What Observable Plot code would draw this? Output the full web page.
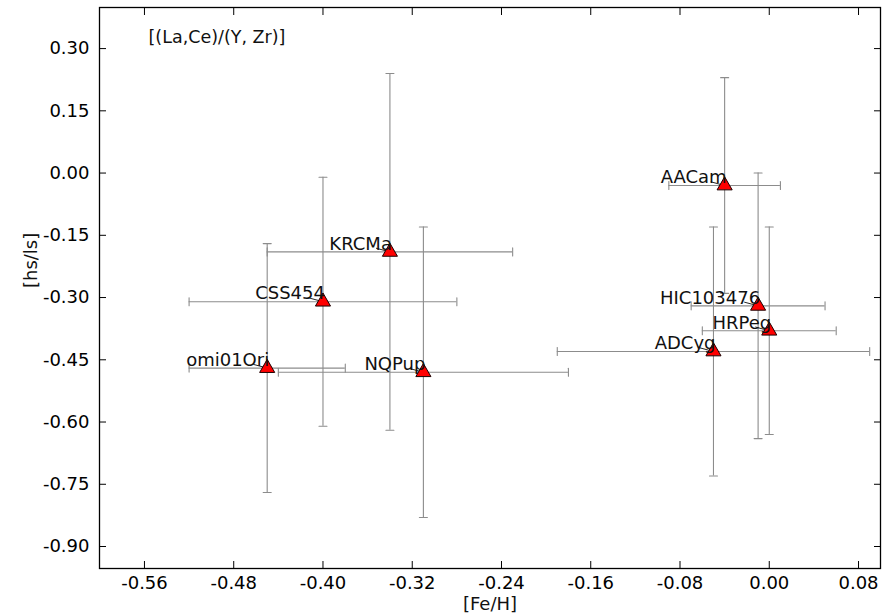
<!DOCTYPE html>
<html>
<head>
<meta charset="utf-8">
<script src="https://cdn.jsdelivr.net/npm/d3@7"></script>
<script src="https://cdn.jsdelivr.net/npm/@observablehq/plot@0.6"></script>
<style>
  html, body { margin: 0; padding: 0; background: #fff; }
  svg { display: block; }
</style>
</head>
<body>
<div id="chart"></div>
<script>
// Stars
const names   = ["AACam", "HIC103476", "HRPeg", "ADCyg", "KRCMa", "CSS454", "omi01Ori", "NQPup"];
// [Fe/H] and its error
const feh     = [-0.04, -0.01, 0.00, -0.05, -0.34, -0.40, -0.45, -0.31];
const fehErr  = [0.05, 0.06, 0.06, 0.14, 0.11, 0.12, 0.07, 0.13];
// [hs/ls] and its error
const hsls    = [-0.03, -0.32, -0.38, -0.43, -0.19, -0.31, -0.47, -0.48];
const hslsErr = [0.26, 0.32, 0.25, 0.30, 0.43, 0.30, 0.30, 0.35];

const xTicks = [-0.56, -0.48, -0.40, -0.32, -0.24, -0.16, -0.08, 0.00, 0.08];
const yTicks = [0.30, 0.15, 0.00, -0.15, -0.30, -0.45, -0.60, -0.75, -0.90];
const title = "[(La,Ce)/(Y, Zr)]";
const xLabel = "[Fe/H]";
const yLabel = "[hs/ls]";

const data = names.map((name, i) => ({
  name, x: feh[i], xe: fehErr[i], y: hsls[i], ye: hslsErr[i]
}));

const fmt = d => d.toFixed(2);
const lineShape = {draw(context, l) { context.moveTo(0, 0); context.lineTo(0, -l); }};
const barColor = "#8c8c8c";
const FONT = "DejaVu Sans";

const chart = Plot.plot({
  width: 891,
  height: 615,
  marginLeft: 99,
  marginRight: 11,
  marginTop: 7,
  marginBottom: 47,
  style: {fontFamily: FONT, fontSize: "18px", color: "#000", background: "#fff"},
  x: {domain: [-0.6003, 0.0997]},
  y: {domain: [-0.953, 0.399]},
  marks: [
    // error bars
    Plot.ruleX(data, {x: "x", y1: d => d.y - d.ye, y2: d => d.y + d.ye, stroke: barColor, strokeWidth: 1.1}),
    Plot.ruleY(data, {y: "y", x1: d => d.x - d.xe, x2: d => d.x + d.xe, stroke: barColor, strokeWidth: 1.1}),
    // caps
    Plot.vector(data, {x: "x", y: d => d.y - d.ye, length: 8, rotate: 90, anchor: "middle", shape: lineShape, stroke: barColor, strokeWidth: 1.1}),
    Plot.vector(data, {x: "x", y: d => d.y + d.ye, length: 8, rotate: 90, anchor: "middle", shape: lineShape, stroke: barColor, strokeWidth: 1.1}),
    Plot.vector(data, {x: d => d.x - d.xe, y: "y", length: 8, rotate: 0, anchor: "middle", shape: lineShape, stroke: barColor, strokeWidth: 1.1}),
    Plot.vector(data, {x: d => d.x + d.xe, y: "y", length: 8, rotate: 0, anchor: "middle", shape: lineShape, stroke: barColor, strokeWidth: 1.1}),
    // annotation arrows
    Plot.vector(data, {x: "x", y: "y", length: 14, rotate: 105, anchor: "end", stroke: "#222", strokeWidth: 0.9}),
    // markers
    Plot.dot(data, {x: "x", y: "y", symbol: "triangle", r: 5.6, fill: "#ff0000", stroke: "#1a0000", strokeWidth: 1}),
    // labels
    Plot.text(data, {x: "x", y: "y", text: "name", textAnchor: "end", dx: 2, dy: -8, fontSize: 18, fill: "#111"}),
    // frame and axes
    Plot.frame({stroke: "#000", strokeWidth: 1.3}),
    Plot.axisX(xTicks, {anchor: "bottom", tickSize: -7, tickPadding: 15, tickFormat: fmt, label: null, fontSize: 18, stroke: "#000"}),
    Plot.axisX(xTicks, {anchor: "top", tickSize: -7, tickFormat: () => "", label: null, stroke: "#000"}),
    Plot.axisY(yTicks, {anchor: "left", tickSize: -7, tickPadding: 17, tickFormat: fmt, label: null, fontSize: 18, stroke: "#000"}),
    Plot.axisY(yTicks, {anchor: "right", tickSize: -7, tickFormat: () => "", label: null, stroke: "#000"}),
    // axis labels & title
    Plot.text([xLabel], {frameAnchor: "bottom", lineAnchor: "middle", dy: 36, fontSize: 18, fill: "#111"}),
    Plot.text([yLabel], {frameAnchor: "left", lineAnchor: "middle", dx: -68, rotate: -90, fontSize: 18, fill: "#111"}),
    Plot.text([title], {frameAnchor: "top-left", lineAnchor: "middle", dx: 49, dy: 30, textAnchor: "start", fontSize: 17.5, fill: "#111"})
  ]
});
document.getElementById("chart").appendChild(chart);
</script>
</body>
</html>
